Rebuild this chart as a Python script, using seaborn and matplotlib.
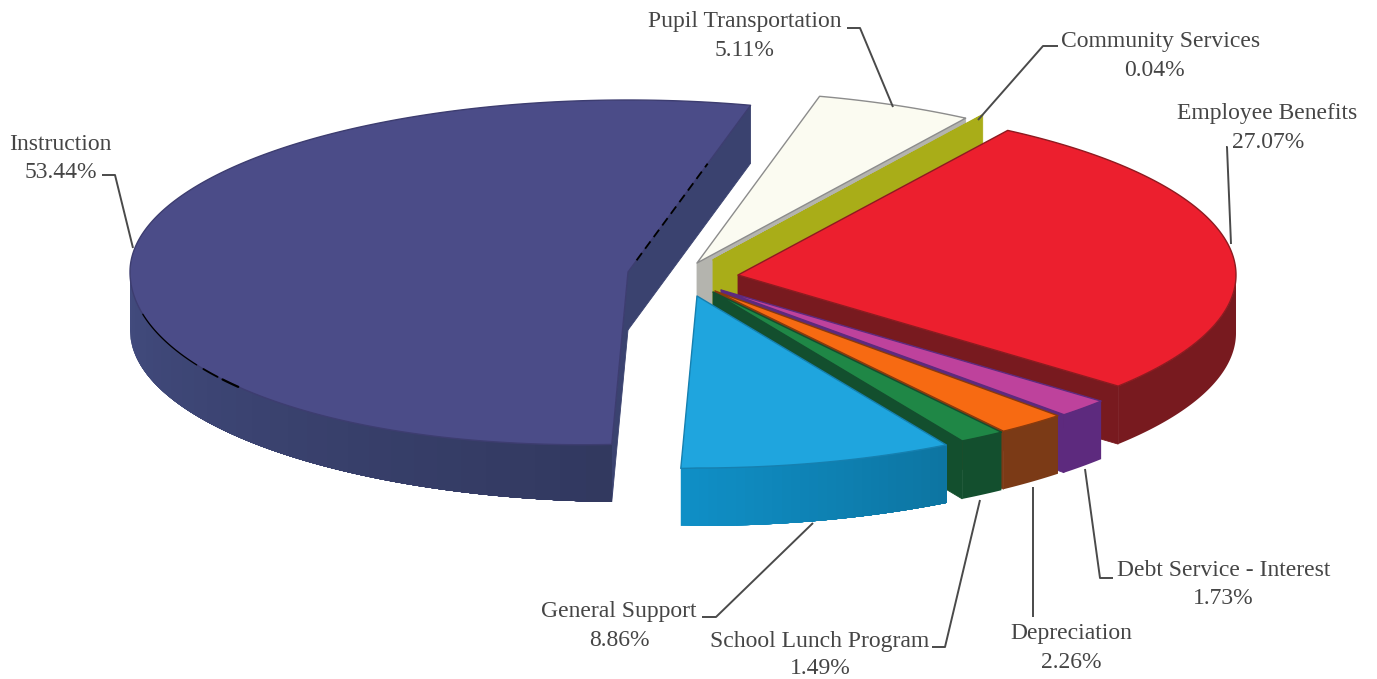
import numpy as np
import matplotlib
matplotlib.use("Agg")
import matplotlib.pyplot as plt
from matplotlib.colors import to_rgb
import seaborn as sns

# Expense categories, counter-clockwise from the back edge of the largest slice
categories = ["Instruction", "General Support", "School Lunch Program", "Depreciation",
              "Debt Service - Interest", "Employee Benefits", "Community Services",
              "Pupil Transportation"]
shares = [53.44, 8.86, 1.49, 2.26, 1.73, 27.07, 0.04, 5.11]

top_colors = ["#4B4C88", "#1FA5DE", "#1F8746", "#F76A12", "#BE429C", "#EC1F2E", "#A9AD18", "#FBFBF1"]
wall_colors = ["#3A426F", "#0E82B4", "#134F2E", "#7B3A16", "#5D2A7E", "#781A1F", "#A9AD18", "#B4B4AE"]
edge_colors = ["#3D3D70", "#1580B0", "#134F2E", "#8A3A0C", "#5D2A7E", "#8E1A20", "#A9AD18", "#8C8C8C"]
# Brightness swing along the curved wall, from its left end to its right end
wall_fade = [0.14, 0.10, 0, 0, 0, 0, 0, 0]

# Exploded apex of each slice on the canvas
apex_x = [628, 697, 713, 715, 721, 738, 713, 697]
apex_y = [272, 296, 292, 291, 290, 275, 260, 263]

# Back-to-front painting order
paint_order = ["Pupil Transportation", "Community Services", "Instruction", "Employee Benefits",
               "Debt Service - Interest", "Depreciation", "School Lunch Program", "General Support"]

# Label anchors: name centre, percent centre
label_x = [60, 619, 820, 1071, 1224, 1267, 1161, 745]
label_y = [144, 612, 641, 634, 571, 114, 42, 22]
pct_x = [61, 619, 820, 1071, 1223, 1268, 1154, 745]

# Leader polylines for each label
leaders = {
    "Instruction": ([102, 115, 133], [175, 175, 248]),
    "General Support": ([702, 716, 813], [617, 617, 523]),
    "School Lunch Program": ([932, 945, 980], [647, 647, 500]),
    "Depreciation": ([1033, 1033], [617, 487]),
    "Debt Service - Interest": ([1113, 1100, 1085], [578, 578, 469]),
    "Employee Benefits": ([1226, 1227, 1231], [147, 147, 244]),
    "Community Services": ([1058, 1043, 978], [46, 46, 120]),
    "Pupil Transportation": ([847, 860, 893], [28, 28, 107]),
}

START_ANGLE = 75.75
RX, RY, DEPTH = 498.0, 172.0, 58.0
FRONT_BULGE = 8.0  # perspective swell of the front-left quadrant of the top face

sns.set_theme(style="white")
plt.rcParams["font.family"] = ["Liberation Serif", "DejaVu Serif"]

fig, ax = plt.subplots(figsize=(13.77, 6.79), dpi=100)
ax.set_position([0, 0, 1, 1])
ax.set_xlim(0, 1377)
ax.set_ylim(679, 0)
ax.set_axis_off()
sns.despine(ax=ax, left=True, bottom=True)

spans = np.array(shares) * 3.6
starts = START_ANGLE + np.concatenate([[0], np.cumsum(spans)[:-1]])


def rim(cx, cy, t0, t1, n=160, bulge=False):
    deg = np.linspace(t0, t1, n)
    t = np.radians(deg)
    x, y = cx + RX * np.cos(t), cy - RY * np.sin(t)
    if bulge:
        inside = (deg > 180) & (deg < 270)
        y = y + FRONT_BULGE * np.sin(2 * (t - np.pi)) * inside
    return x, y


def visible_rim(t0, t1):
    """Angular ranges of the outer wall facing the viewer (lower half of the ellipse)."""
    out = []
    for k in (0, 1):
        lo, hi = max(t0, 180 + 360 * k), min(t1, 360 + 360 * k)
        if hi > lo:
            out.append((lo, hi))
    return out


def shade(color, factor):
    return tuple(np.clip(np.array(to_rgb(color)) * factor, 0, 1))


def cut_wall(cx, cy, angle, color):
    x, y = rim(cx, cy, angle, angle, 1)
    ax.fill([cx, x[0], x[0], cx], [cy, y[0], y[0] + DEPTH, cy + DEPTH],
            color=color, lw=0.6, zorder=2)


for name in paint_order:
    i = categories.index(name)
    cx, cy = apex_x[i], apex_y[i]
    t0, t1 = starts[i], starts[i] + spans[i]
    # Cut faces turned towards the viewer
    if np.cos(np.radians(t0)) > 0:
        cut_wall(cx, cy, t0, wall_colors[i])
    if np.cos(np.radians(t1)) < 0:
        cut_wall(cx, cy, t1, wall_colors[i])
    # Outer curved wall: each band runs to the wall's far end and is painted
    # over by the next one, which drifts the brightness without seams
    for lo, hi in visible_rim(t0, t1):
        steps = 30 if wall_fade[i] else 1
        for j, a in enumerate(np.linspace(lo, hi, steps, endpoint=False)):
            x, y = rim(cx, cy, a, hi, 120)
            factor = 1 + wall_fade[i] * (1 - 2 * j / max(steps - 1, 1))
            ax.fill(np.r_[x, x[::-1]], np.r_[y, y[::-1] + DEPTH],
                    color=shade(wall_colors[i], factor), lw=0, zorder=2)
    # Top face
    x, y = rim(cx, cy, t0, t1, 240, bulge=True)
    ax.fill(np.r_[cx, x], np.r_[cy, y], facecolor=top_colors[i],
            edgecolor=edge_colors[i], lw=1.0, zorder=2, joinstyle="round")

# Thin black printing marks on the largest slice
inst = categories.index("Instruction")
ex, ey = rim(apex_x[inst], apex_y[inst], starts[inst], starts[inst], 1)
fr = np.array([0.07, 0.65])
ax.plot(apex_x[inst] + fr * (ex[0] - apex_x[inst]), apex_y[inst] + fr * (ey[0] - apex_y[inst]),
        color="black", lw=1.3, ls=(0, (5, 3)), zorder=3)
for a, b, w in [(193, 210, 0.9), (211.5, 214.5, 1.3), (215.5, 218.5, 1.6)]:
    x, y = rim(apex_x[inst], apex_y[inst], a, b, 30, bulge=True)
    ax.plot(x, y, color="black", lw=w, zorder=3)

ink = "#454545"
for i, name in enumerate(categories):
    lx, ly = leaders[name]
    ax.plot(lx, ly, color="#4A4A4A", lw=1.4, zorder=4, solid_capstyle="butt")
    ax.text(label_x[i], label_y[i], name, ha="center", va="center", fontsize=17, color=ink, zorder=5)
    ax.text(pct_x[i], label_y[i] + 28, f"{shares[i]:.2f}%", ha="center", va="center",
            fontsize=17, color=ink, zorder=5)

fig.savefig("out.png", dpi=100, facecolor="white")
